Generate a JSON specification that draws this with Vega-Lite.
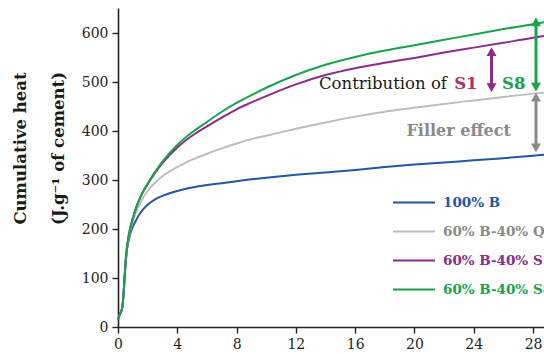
{
  "$schema": "https://vega.github.io/schema/vega-lite/v6.json",
  "width": 426,
  "height": 319,
  "autosize": {"type": "none"},
  "padding": {"left": 118, "top": 8, "right": 0, "bottom": 27},
  "background": "white",
  "config": {"view": {"stroke": null}, "font": "DejaVu Serif"},
  "layer": [
    {
      "data": {"values": [
        {"s":"100% B","t":0,"v":15},{"s":"100% B","t":0.1,"v":24},{"s":"100% B","t":0.2,"v":31},{"s":"100% B","t":0.3,"v":42},{"s":"100% B","t":0.4,"v":78},{"s":"100% B","t":0.5,"v":124},{"s":"100% B","t":0.6,"v":156},{"s":"100% B","t":0.7,"v":174},{"s":"100% B","t":0.8,"v":187},{"s":"100% B","t":1.0,"v":205},{"s":"100% B","t":1.25,"v":220},{"s":"100% B","t":1.5,"v":233},{"s":"100% B","t":2,"v":250},{"s":"100% B","t":2.5,"v":261},{"s":"100% B","t":3,"v":268},{"s":"100% B","t":4,"v":278},{"s":"100% B","t":5,"v":285},{"s":"100% B","t":6,"v":290},{"s":"100% B","t":7,"v":294},{"s":"100% B","t":8,"v":298},{"s":"100% B","t":9,"v":302},{"s":"100% B","t":10,"v":305},{"s":"100% B","t":12,"v":311},{"s":"100% B","t":14,"v":316},{"s":"100% B","t":16,"v":321},{"s":"100% B","t":18,"v":327},{"s":"100% B","t":20,"v":332},{"s":"100% B","t":22,"v":336},{"s":"100% B","t":24,"v":341},{"s":"100% B","t":26,"v":345},{"s":"100% B","t":28,"v":350},{"s":"100% B","t":28.74,"v":352},
        {"s":"60% B-40% Q","t":0,"v":15},{"s":"60% B-40% Q","t":0.1,"v":24},{"s":"60% B-40% Q","t":0.2,"v":31},{"s":"60% B-40% Q","t":0.3,"v":42},{"s":"60% B-40% Q","t":0.4,"v":79},{"s":"60% B-40% Q","t":0.5,"v":126},{"s":"60% B-40% Q","t":0.6,"v":159},{"s":"60% B-40% Q","t":0.7,"v":178},{"s":"60% B-40% Q","t":0.8,"v":193},{"s":"60% B-40% Q","t":1.0,"v":216},{"s":"60% B-40% Q","t":1.25,"v":237},{"s":"60% B-40% Q","t":1.5,"v":254},{"s":"60% B-40% Q","t":2,"v":278},{"s":"60% B-40% Q","t":2.5,"v":295},{"s":"60% B-40% Q","t":3,"v":308},{"s":"60% B-40% Q","t":4,"v":327},{"s":"60% B-40% Q","t":5,"v":342},{"s":"60% B-40% Q","t":6,"v":354},{"s":"60% B-40% Q","t":7,"v":365},{"s":"60% B-40% Q","t":8,"v":375},{"s":"60% B-40% Q","t":9,"v":384},{"s":"60% B-40% Q","t":10,"v":391},{"s":"60% B-40% Q","t":12,"v":405},{"s":"60% B-40% Q","t":14,"v":418},{"s":"60% B-40% Q","t":16,"v":430},{"s":"60% B-40% Q","t":18,"v":440},{"s":"60% B-40% Q","t":20,"v":448},{"s":"60% B-40% Q","t":22,"v":456},{"s":"60% B-40% Q","t":24,"v":463},{"s":"60% B-40% Q","t":26,"v":470},{"s":"60% B-40% Q","t":28,"v":477},{"s":"60% B-40% Q","t":28.74,"v":479},
        {"s":"60% B-40% S1","t":0,"v":15},{"s":"60% B-40% S1","t":0.1,"v":24},{"s":"60% B-40% S1","t":0.2,"v":31},{"s":"60% B-40% S1","t":0.3,"v":42},{"s":"60% B-40% S1","t":0.4,"v":80},{"s":"60% B-40% S1","t":0.5,"v":128},{"s":"60% B-40% S1","t":0.6,"v":162},{"s":"60% B-40% S1","t":0.7,"v":183},{"s":"60% B-40% S1","t":0.8,"v":199},{"s":"60% B-40% S1","t":1.0,"v":222},{"s":"60% B-40% S1","t":1.25,"v":246},{"s":"60% B-40% S1","t":1.5,"v":265},{"s":"60% B-40% S1","t":2,"v":292},{"s":"60% B-40% S1","t":2.5,"v":315},{"s":"60% B-40% S1","t":3,"v":335},{"s":"60% B-40% S1","t":4,"v":367},{"s":"60% B-40% S1","t":5,"v":391},{"s":"60% B-40% S1","t":6,"v":410},{"s":"60% B-40% S1","t":7,"v":428},{"s":"60% B-40% S1","t":8,"v":445},{"s":"60% B-40% S1","t":9,"v":459},{"s":"60% B-40% S1","t":10,"v":472},{"s":"60% B-40% S1","t":12,"v":496},{"s":"60% B-40% S1","t":14,"v":515},{"s":"60% B-40% S1","t":16,"v":529},{"s":"60% B-40% S1","t":18,"v":540},{"s":"60% B-40% S1","t":20,"v":550},{"s":"60% B-40% S1","t":22,"v":561},{"s":"60% B-40% S1","t":24,"v":571},{"s":"60% B-40% S1","t":26,"v":581},{"s":"60% B-40% S1","t":28,"v":591},{"s":"60% B-40% S1","t":28.74,"v":595},
        {"s":"60% B-40% S8","t":0,"v":15},{"s":"60% B-40% S8","t":0.1,"v":24},{"s":"60% B-40% S8","t":0.2,"v":31},{"s":"60% B-40% S8","t":0.3,"v":42},{"s":"60% B-40% S8","t":0.4,"v":80},{"s":"60% B-40% S8","t":0.5,"v":128},{"s":"60% B-40% S8","t":0.6,"v":162},{"s":"60% B-40% S8","t":0.7,"v":183},{"s":"60% B-40% S8","t":0.8,"v":199},{"s":"60% B-40% S8","t":1.0,"v":222},{"s":"60% B-40% S8","t":1.25,"v":246},{"s":"60% B-40% S8","t":1.5,"v":265},{"s":"60% B-40% S8","t":2,"v":293},{"s":"60% B-40% S8","t":2.5,"v":317},{"s":"60% B-40% S8","t":3,"v":338},{"s":"60% B-40% S8","t":4,"v":372},{"s":"60% B-40% S8","t":5,"v":398},{"s":"60% B-40% S8","t":6,"v":419},{"s":"60% B-40% S8","t":7,"v":440},{"s":"60% B-40% S8","t":8,"v":458},{"s":"60% B-40% S8","t":9,"v":474},{"s":"60% B-40% S8","t":10,"v":489},{"s":"60% B-40% S8","t":12,"v":515},{"s":"60% B-40% S8","t":14,"v":536},{"s":"60% B-40% S8","t":16,"v":552},{"s":"60% B-40% S8","t":18,"v":565},{"s":"60% B-40% S8","t":20,"v":576},{"s":"60% B-40% S8","t":22,"v":587},{"s":"60% B-40% S8","t":24,"v":598},{"s":"60% B-40% S8","t":26,"v":609},{"s":"60% B-40% S8","t":28,"v":619},{"s":"60% B-40% S8","t":28.74,"v":623}
      ]},
      "mark": {"type": "line", "interpolate": "monotone", "strokeWidth": 2},
      "encoding": {
        "x": {"field": "t", "type": "quantitative", "scale": {"domain": [0, 28.74], "nice": false, "zero": false},
          "axis": {"title": null, "values": [0,2,4,6,8,10,12,14,16,18,20,22,24,26,28],
            "labelExpr": "datum.value % 4 === 0 ? datum.label : ''",
            "tickSize": {"condition": {"test": "datum.value % 4 === 0", "value": 6}, "value": 3.5},
            "labelPadding": 4, "labelFontSize": 14, "labelFont": "DejaVu Serif", "labelColor": "#222",
            "labelFlush": false, "labelOverlap": false, "grid": false,
            "domainColor": "#222", "domainWidth": 1.6, "tickColor": "#222", "tickWidth": 1.4}},
        "y": {"field": "v", "type": "quantitative", "scale": {"domain": [0, 652], "nice": false, "zero": false},
          "axis": {"title": ["Cumulative heat", "(J.g⁻¹ of cement)"],
            "values": [0,50,100,150,200,250,300,350,400,450,500,550,600,650],
            "labelExpr": "datum.value % 100 === 0 ? datum.label : ''",
            "tickSize": {"condition": {"test": "datum.value % 100 === 0", "value": 6}, "value": 3.5},
            "labelPadding": 4, "labelFontSize": 14, "labelFont": "DejaVu Serif", "labelColor": "#222",
            "labelOverlap": false, "labelFlush": false, "grid": false,
            "domainColor": "#222", "domainWidth": 1.6, "tickColor": "#222", "tickWidth": 1.4,
            "titleFont": "DejaVu Serif", "titleFontSize": 16.5, "titleFontWeight": "bold", "titleColor": "#1a1a1a",
            "titleAngle": 270, "titleAlign": "center", "titleBaseline": "top", "titleLineHeight": 38,
            "titleX": -106, "titleY": 140}},
        "color": {"field": "s", "type": "nominal",
          "scale": {"domain": ["100% B", "60% B-40% Q", "60% B-40% S1", "60% B-40% S8"],
                    "range": ["#2355a8", "#bdbdbd", "#8e2a8e", "#19a34a"]},
          "legend": {"orient": "none", "legendX": 274, "legendY": 180, "title": null,
            "symbolType": "stroke", "symbolSize": 1764, "symbolStrokeWidth": 2, "clipHeight": 29,
            "rowPadding": 0, "labelOffset": 7, "labelFont": "DejaVu Serif", "labelFontSize": 13.5,
            "labelFontWeight": "bold", "labelLimit": 0, "padding": 0,
            "encode": {"labels": {"update": {"fill": {"signal": "datum.value === '60% B-40% Q' ? '#8a8a8a' : scale('color', datum.value)"}}}}}}
      }
    },
    {
      "mark": {"type": "rule", "color": "#222", "strokeWidth": 2},
      "encoding": {"y": {"datum": 652, "type": "quantitative", "scale": {"domain": [0, 652], "nice": false, "zero": false}}}
    },
    {
      "data": {"values": [{"t": 25.2, "lo": 480, "hi": 572}]},
      "layer": [
        {"mark": {"type": "rule", "color": "#8e2a8e", "strokeWidth": 3, "yOffset": 6, "y2Offset": -6},
         "encoding": {"x": {"field": "t", "type": "quantitative"}, "y": {"field": "hi", "type": "quantitative"}, "y2": {"field": "lo"}}},
        {"mark": {"type": "point", "shape": "triangle-up", "filled": true, "size": 100, "opacity": 1, "color": "#8e2a8e", "yOffset": 4.5},
         "encoding": {"x": {"field": "t", "type": "quantitative"}, "y": {"field": "hi", "type": "quantitative"}}},
        {"mark": {"type": "point", "shape": "triangle-down", "filled": true, "size": 100, "opacity": 1, "color": "#8e2a8e", "yOffset": -4.5},
         "encoding": {"x": {"field": "t", "type": "quantitative"}, "y": {"field": "lo", "type": "quantitative"}}}
      ]
    },
    {
      "data": {"values": [{"t": 28.2, "lo": 481, "hi": 633}]},
      "layer": [
        {"mark": {"type": "rule", "color": "#19a34a", "strokeWidth": 3, "yOffset": 6, "y2Offset": -6},
         "encoding": {"x": {"field": "t", "type": "quantitative"}, "y": {"field": "hi", "type": "quantitative"}, "y2": {"field": "lo"}}},
        {"mark": {"type": "point", "shape": "triangle-up", "filled": true, "size": 100, "opacity": 1, "color": "#19a34a", "yOffset": 4.5},
         "encoding": {"x": {"field": "t", "type": "quantitative"}, "y": {"field": "hi", "type": "quantitative"}}},
        {"mark": {"type": "point", "shape": "triangle-down", "filled": true, "size": 100, "opacity": 1, "color": "#19a34a", "yOffset": -4.5},
         "encoding": {"x": {"field": "t", "type": "quantitative"}, "y": {"field": "lo", "type": "quantitative"}}}
      ]
    },
    {
      "data": {"values": [{"t": 28.2, "lo": 357, "hi": 479}]},
      "layer": [
        {"mark": {"type": "rule", "color": "#8a8a8a", "strokeWidth": 3, "yOffset": 6, "y2Offset": -6},
         "encoding": {"x": {"field": "t", "type": "quantitative"}, "y": {"field": "hi", "type": "quantitative"}, "y2": {"field": "lo"}}},
        {"mark": {"type": "point", "shape": "triangle-up", "filled": true, "size": 100, "opacity": 1, "color": "#8a8a8a", "yOffset": 4.5},
         "encoding": {"x": {"field": "t", "type": "quantitative"}, "y": {"field": "hi", "type": "quantitative"}}},
        {"mark": {"type": "point", "shape": "triangle-down", "filled": true, "size": 100, "opacity": 1, "color": "#8a8a8a", "yOffset": -4.5},
         "encoding": {"x": {"field": "t", "type": "quantitative"}, "y": {"field": "lo", "type": "quantitative"}}}
      ]
    },
    {
      "data": {"values": [{"t": 13.56, "v": 486, "label": "Contribution of"}]},
      "mark": {"type": "text", "align": "left", "baseline": "alphabetic", "font": "DejaVu Serif", "fontSize": 16.5, "color": "#1a1a1a"},
      "encoding": {"x": {"field": "t", "type": "quantitative"}, "y": {"field": "v", "type": "quantitative"}, "text": {"field": "label"}}
    },
    {
      "data": {"values": [{"t": 22.68, "v": 486, "label": "S1"}]},
      "mark": {"type": "text", "align": "left", "baseline": "alphabetic", "font": "DejaVu Serif", "fontSize": 16.5, "fontWeight": "bold", "color": "#b0305e"},
      "encoding": {"x": {"field": "t", "type": "quantitative"}, "y": {"field": "v", "type": "quantitative"}, "text": {"field": "label"}}
    },
    {
      "data": {"values": [{"t": 25.91, "v": 486, "label": "S8"}]},
      "mark": {"type": "text", "align": "left", "baseline": "alphabetic", "font": "DejaVu Serif", "fontSize": 16.5, "fontWeight": "bold", "color": "#19a34a"},
      "encoding": {"x": {"field": "t", "type": "quantitative"}, "y": {"field": "v", "type": "quantitative"}, "text": {"field": "label"}}
    },
    {
      "data": {"values": [{"t": 19.46, "v": 391, "label": "Filler effect"}]},
      "mark": {"type": "text", "align": "left", "baseline": "alphabetic", "font": "DejaVu Serif", "fontSize": 16, "fontWeight": "bold", "color": "#8a8a8a"},
      "encoding": {"x": {"field": "t", "type": "quantitative"}, "y": {"field": "v", "type": "quantitative"}, "text": {"field": "label"}}
    }
  ]
}
